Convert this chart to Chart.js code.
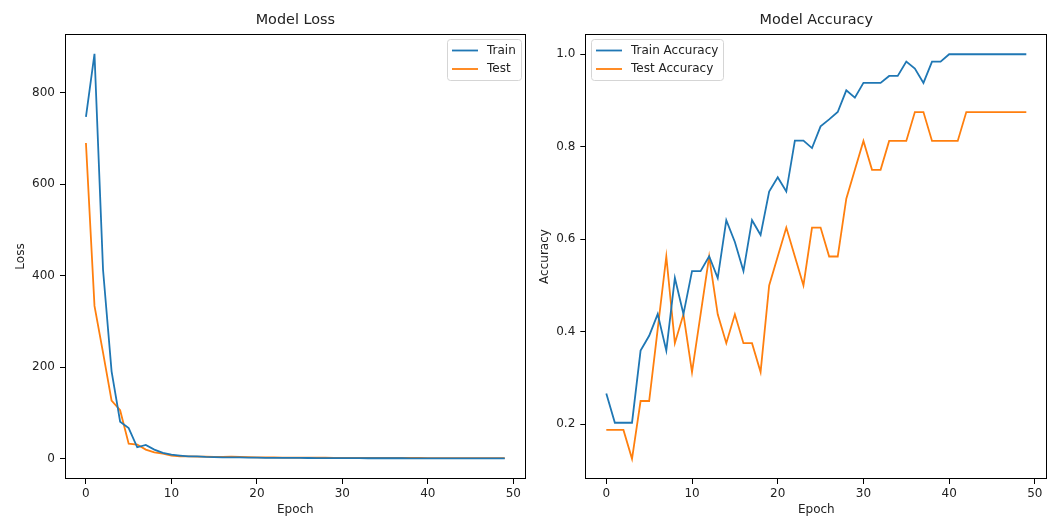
<!DOCTYPE html>
<html>
<head>
<meta charset="utf-8">
<script src="https://cdn.jsdelivr.net/npm/chart.js@4.4.0/dist/chart.umd.min.js"></script>
<style>
    body { margin: 0; background: #fff; }
    .panel { position: absolute; top: 0; height: 517px; }
    #lossBox { left: 0; width: 530px; }
    #accBox { left: 530px; width: 524px; }
</style>
</head>
<body>
<div class="panel" id="lossBox"><canvas id="lossChart" width="530" height="517"></canvas></div>
<div class="panel" id="accBox"><canvas id="accChart" width="524" height="517"></canvas></div>
<script>
// epochs and values
const epochs = [0, 1, 2, 3, 4, 5, 6, 7, 8, 9, 10, 11, 12, 13, 14, 15, 16, 17, 18, 19,
    20, 21, 22, 23, 24, 25, 26, 27, 28, 29, 30, 31, 32, 33, 34, 35, 36, 37, 38, 39,
    40, 41, 42, 43, 44, 45, 46, 47, 48, 49];

const trainLoss = [747, 885, 413, 191, 81, 67, 25, 30, 20, 13, 9, 7, 5, 5, 4, 3.5, 3, 3, 3, 2.5,
    2.5, 2, 2, 2, 1.8, 1.8, 1.6, 1.5, 1.5, 1.4, 1.3, 1.2, 1.2, 1.1, 1.1, 1, 1, 1, 0.9, 0.9,
    0.9, 0.8, 0.8, 0.8, 0.7, 0.7, 0.7, 0.7, 0.6, 0.6];
const testLoss = [690, 334, 232, 127, 106, 33, 31, 20, 14, 11, 7, 5, 5, 4.5, 4.5, 4, 4, 4.5, 4, 3.5,
    3, 3, 2.8, 2.6, 2.5, 2.4, 2.3, 2.2, 2.1, 2, 2, 1.9, 1.9, 1.8, 1.8, 1.7, 1.7, 1.6, 1.6, 1.6,
    1.5, 1.5, 1.5, 1.4, 1.4, 1.4, 1.3, 1.3, 1.3, 1.3];

const trainAcc = [0.266, 0.203, 0.203, 0.203, 0.359, 0.391, 0.438, 0.359, 0.516, 0.438,
    0.531, 0.531, 0.563, 0.516, 0.641, 0.594, 0.531, 0.641, 0.609, 0.703,
    0.734, 0.703, 0.813, 0.813, 0.797, 0.844, 0.859, 0.875, 0.922, 0.906,
    0.938, 0.938, 0.938, 0.953, 0.953, 0.984, 0.969, 0.938, 0.984, 0.984,
    1.0, 1.0, 1.0, 1.0, 1.0, 1.0, 1.0, 1.0, 1.0, 1.0];
const testAcc = [0.1875, 0.1875, 0.1875, 0.125, 0.25, 0.25, 0.406, 0.5625, 0.375, 0.4375,
    0.3125, 0.4375, 0.5625, 0.4375, 0.375, 0.4375, 0.375, 0.375, 0.3125, 0.5,
    0.5625, 0.625, 0.5625, 0.5, 0.625, 0.625, 0.5625, 0.5625, 0.6875, 0.75,
    0.8125, 0.75, 0.75, 0.8125, 0.8125, 0.8125, 0.875, 0.875, 0.8125, 0.8125,
    0.8125, 0.8125, 0.875, 0.875, 0.875, 0.875, 0.875, 0.875, 0.875, 0.875];

const xTicks = [0, 10, 20, 30, 40, 50];
const lossTicks = [0, 200, 400, 600, 800];
const accTicks = [0.2, 0.4, 0.6, 0.8, 1.0];

const BLUE = '#1f77b4';
const ORANGE = '#ff7f0e';
const TEXT = '#222';
const FONT = '"DejaVu Sans", sans-serif';

function points(ys) {
    return epochs.map((e, i) => ({ x: e, y: ys[i] }));
}

// matplotlib style frame around the plot area
const frame = {
    id: 'frame',
    afterDatasetsDraw(chart) {
        const a = chart.chartArea;
        const ctx = chart.ctx;
        ctx.save();
        ctx.strokeStyle = '#000';
        ctx.lineWidth = 1;
        ctx.strokeRect(Math.round(a.left) + 0.5, Math.round(a.top) + 0.5,
            Math.round(a.right - a.left) - 1, Math.round(a.bottom - a.top) - 1);
        ctx.restore();
    }
};

// boxed legend inside the plot corner
const boxLegend = {
    id: 'boxLegend',
    afterDraw(chart, args, opts) {
        const ctx = chart.ctx;
        const a = chart.chartArea;
        const sets = chart.data.datasets;
        ctx.save();
        ctx.font = '12px ' + FONT;
        const textW = Math.max(...sets.map(d => ctx.measureText(d.label).width));
        const w = Math.round(39 + textW + 6);
        const h = 41;
        const x = opts.corner === 'right' ? Math.round(a.right - 5 - w) : Math.round(a.left + 6);
        const y = Math.round(a.top + 5);
        ctx.beginPath();
        ctx.roundRect(x + 0.5, y + 0.5, w, h, 3);
        ctx.fillStyle = 'rgba(255,255,255,0.8)';
        ctx.fill();
        ctx.strokeStyle = '#d5d5d5';
        ctx.lineWidth = 1;
        ctx.stroke();
        sets.forEach((d, i) => {
            const cy = y + 11.5 + i * 18.5;
            ctx.strokeStyle = d.borderColor;
            ctx.lineWidth = d.borderWidth;
            ctx.beginPath();
            ctx.moveTo(x + 5, cy);
            ctx.lineTo(x + 31, cy);
            ctx.stroke();
            ctx.fillStyle = TEXT;
            ctx.textBaseline = 'middle';
            ctx.fillText(d.label, x + 40, cy);
        });
        ctx.restore();
    }
};

function makeChart(id, cfg) {
    const font = { family: FONT, size: 12 };
    return new Chart(document.getElementById(id), {
        type: 'line',
        data: {
            datasets: [
                { label: cfg.labels[0], data: points(cfg.series[0]), borderColor: BLUE, backgroundColor: BLUE,
                  borderWidth: 1.8, pointRadius: 0, tension: 0, fill: false },
                { label: cfg.labels[1], data: points(cfg.series[1]), borderColor: ORANGE, backgroundColor: ORANGE,
                  borderWidth: 1.8, pointRadius: 0, tension: 0, fill: false }
            ]
        },
        options: {
            responsive: false,
            animation: false,
            layout: { padding: { left: 0, right: cfg.rightPad, top: 0, bottom: 0 } },
            plugins: {
                legend: { display: false },
                tooltip: { enabled: false },
                title: {
                    display: true,
                    fullSize: false,
                    text: cfg.title,
                    color: TEXT,
                    font: { family: FONT, size: 14.4, weight: 'normal' },
                    padding: { top: 12, bottom: 4.7 }
                },
                boxLegend: { corner: cfg.corner }
            },
            scales: {
                x: {
                    type: 'linear',
                    min: -2.45,
                    max: 51.45,
                    afterBuildTicks: s => { s.ticks = xTicks.map(v => ({ value: v })); },
                    afterFit: s => { s.height = 38; },
                    ticks: { color: TEXT, font: font, padding: 3, maxRotation: 0, autoSkip: false },
                    grid: { display: true, drawOnChartArea: false, drawTicks: true, tickLength: 5, tickColor: '#000', tickWidth: 1 },
                    border: { display: false },
                    title: { display: true, text: 'Epoch', color: TEXT, font: font, padding: { top: 0, bottom: 0 } }
                },
                y: {
                    type: 'linear',
                    min: cfg.yMin,
                    max: cfg.yMax,
                    afterBuildTicks: s => { s.ticks = cfg.yTicks.map(v => ({ value: v })); },
                    afterFit: s => { s.width = cfg.yWidth; },
                    ticks: { color: TEXT, font: font, padding: 5, callback: cfg.fmt },
                    grid: { display: true, drawOnChartArea: false, drawTicks: true, tickLength: 5, tickColor: '#000', tickWidth: 1 },
                    border: { display: false },
                    title: { display: true, text: cfg.yTitle, color: TEXT, font: font, padding: { top: cfg.yTitlePad, bottom: 0 } }
                }
            }
        },
        plugins: [frame, boxLegend]
    });
}

makeChart('lossChart', {
    title: 'Model Loss',
    labels: ['Train', 'Test'],
    series: [trainLoss, testLoss],
    yTicks: lossTicks,
    yMin: -44.3,
    yMax: 928.3,
    yTitle: 'Loss',
    yTitlePad: 13.8,
    yWidth: 65,
    rightPad: 4.3,
    corner: 'right',
    fmt: v => String(v)
});

makeChart('accChart', {
    title: 'Model Accuracy',
    labels: ['Train Accuracy', 'Test Accuracy'],
    series: [trainAcc, testAcc],
    yTicks: accTicks,
    yMin: 0.0813,
    yMax: 1.0438,
    yTitle: 'Accuracy',
    yTitlePad: 7.8,
    yWidth: 55.3,
    rightPad: 6.7,
    corner: 'left',
    fmt: v => v.toFixed(1)
});
</script>
</body>
</html>
